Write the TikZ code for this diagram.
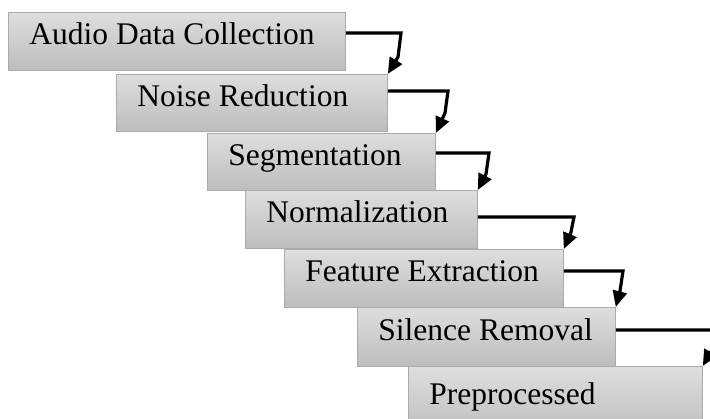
\documentclass[tikz,border=0pt]{standalone}
\usepackage{fontspec}
\setmainfont{Liberation Serif}
\usetikzlibrary{arrows.meta}
\tikzset{
  stepbox/.style={draw=black!33, line width=0.8pt,
    top color=black!13, bottom color=black!26,
    rectangle, anchor=north west, inner xsep=21pt, inner ysep=0pt,
    text height=0.66em, text depth=0pt,
    font=\fontsize{31.5}{36}\selectfont},
  conn/.style={line width=3.2pt, line join=miter,
    -{Triangle[length=16pt,width=14pt]}},
}
% box of given width/height, text left-aligned with 21pt padding
\newcommand{\stepnode}[5]{%
  \node[stepbox, minimum width=#3pt, minimum height=#4pt] (#1) at (#2)
    {\makebox[\dimexpr#3pt-42pt\relax][l]{#5}};}
\begin{document}
\begin{tikzpicture}[x=1pt,y=-1pt]
\useasboundingbox (0,0) rectangle (710,418);
\clip (0,0) rectangle (710,418);
\stepnode{n1}{8,12}{337}{58}{Audio Data Collection}
\stepnode{n2}{116,74}{271}{57}{Noise Reduction}
\stepnode{n3}{207,133}{228}{57}{Segmentation}
\stepnode{n4}{245,190}{232}{58}{Normalization}
\stepnode{n5}{284,249}{279}{58}{Feature Extraction}
\stepnode{n6}{357,307}{258}{59}{Silence Removal}
\stepnode{n7}{408,366}{294}{70}{Preprocessed}
% elbow corners of the connectors
\coordinate (k1) at (401,33);
\coordinate (k2) at (448,91);
\coordinate (k3) at (489,153);
\coordinate (k4) at (574,217);
\coordinate (k5) at (623,271);
\coordinate (k6) at (716,330);
\draw[conn] (n1.east |- k1) -- (k1) -- ++(-3,24) -- (n2.north east);
\draw[conn] (n2.east |- k2) -- (k2) -- ++(-3,22) -- (n3.north east);
\draw[conn] (n3.east |- k3) -- (k3) -- ++(-3,21) -- (n4.north east);
\draw[conn] (n4.east |- k4) -- (k4) -- ++(-3,15) -- (n5.north east);
\draw[conn] (n5.east |- k5) -- (k5) -- ++(-3,20) -- (n6.north east);
\draw[conn] (n6.east |- k6) -- (k6) -- ++(-3,18) -- (n7.north east);
\end{tikzpicture}
\end{document}
